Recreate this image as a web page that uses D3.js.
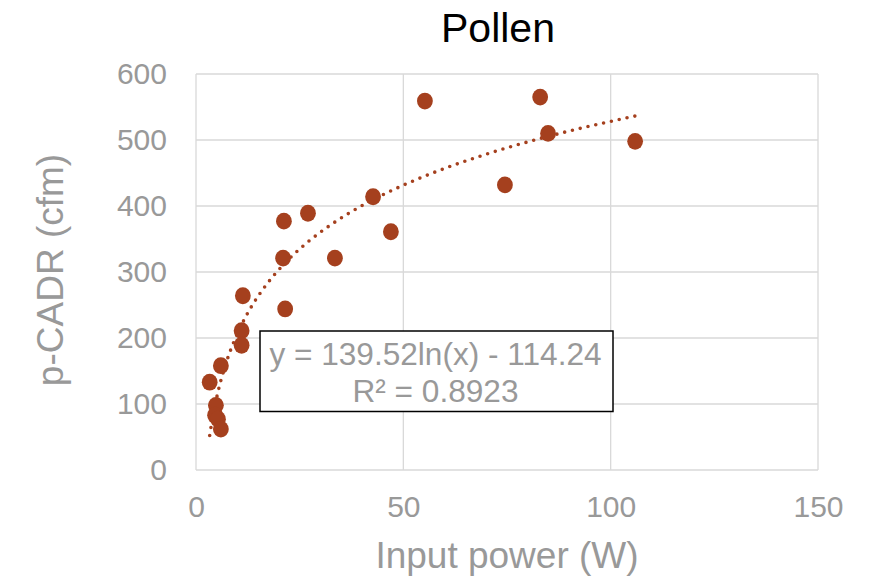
<!DOCTYPE html>
<html><head><meta charset="utf-8">
<script src="https://cdn.jsdelivr.net/npm/d3@7"></script>
<style>body{margin:0;background:#fff}svg{display:block}</style>
</head><body>
<svg id="c" width="877" height="578"></svg>
<script>
const xValues = [55.2, 83, 84.9, 105.9, 74.5, 42.7, 47, 27, 21.2, 21, 33.5, 21.5, 11.3, 11, 11, 6, 3.3, 4.8, 4.6, 5.3, 6];
const yValues = [559, 565, 510, 498, 432, 414, 361, 389, 377, 321, 321, 244, 264, 211, 189, 158, 133, 98, 83, 77, 62];
const xTicks = [0, 50, 100, 150];
const yTicks = [0, 100, 200, 300, 400, 500, 600];
const trendA = 139.52, trendB = -114.24;
const eqLines = ["y = 139.52ln(x) - 114.24", "R² = 0.8923"];

const svg = d3.select("#c");
const font = "Liberation Sans, Arial, sans-serif";
const grey = "#999999";
const mark = "#A5401E";
const x = d3.scaleLinear().domain([0,150]).range([196,818]);
const y = d3.scaleLinear().domain([0,600]).range([470,74]);

// gridlines
svg.append("g").selectAll("line").data(yTicks).join("line")
  .attr("x1",x(0)).attr("x2",x(150)).attr("y1",d=>y(d)).attr("y2",d=>y(d))
  .attr("stroke","#d9d9d9").attr("stroke-width",1.3);
svg.append("g").selectAll("line").data(xTicks).join("line")
  .attr("y1",y(0)).attr("y2",y(600)).attr("x1",d=>x(d)).attr("x2",d=>x(d))
  .attr("stroke","#d9d9d9").attr("stroke-width",1.3);

// axes
const yAxis = svg.append("g").attr("transform",`translate(${x(0)},0)`)
  .call(d3.axisLeft(y).tickValues(yTicks).tickSize(0).tickPadding(29));
const xAxis = svg.append("g").attr("transform",`translate(0,${y(0)})`)
  .call(d3.axisBottom(x).tickValues(xTicks).tickSize(0).tickPadding(25.5));
[yAxis,xAxis].forEach(a=>{
  a.select(".domain").remove();
  a.selectAll("text").attr("fill",grey).style("font-family",font).style("font-size","30px");
});

// trendline
const xs = d3.extent(xValues);
const tData = d3.range(0,201).map(i=>{const xv = xs[0]+(xs[1]-xs[0])*i/200; return [xv, trendA*Math.log(xv)+trendB];});
svg.append("path").datum(tData)
  .attr("d",d3.line().x(d=>x(d[0])).y(d=>y(d[1])))
  .attr("fill","none").attr("stroke",mark).attr("stroke-width",3.6)
  .attr("stroke-linecap","round").attr("stroke-dasharray","0 8");

// points
svg.append("g").selectAll("ellipse").data(xValues.map((v,i)=>[v,yValues[i]])).join("ellipse")
  .attr("cx",d=>x(d[0])).attr("cy",d=>y(d[1])).attr("rx",7.9).attr("ry",8.4)
  .attr("fill",mark);

// equation box
svg.append("rect").attr("x",260).attr("y",331).attr("width",353).attr("height",80.5)
  .attr("fill","#fff").attr("stroke","#000").attr("stroke-width",1.5);
svg.append("g").selectAll("text").data(eqLines).join("text")
  .attr("x",435.5).attr("y",(d,i)=>365+i*36.5).attr("text-anchor","middle")
  .attr("fill",grey).style("font-family",font).style("font-size","31.6px").text(d=>d);

// title
svg.append("text").attr("x",498).attr("y",42).attr("text-anchor","middle")
  .attr("fill","#000").style("font-family",font).style("font-size","41px").text("Pollen");
// axis titles
svg.append("text").attr("x",507).attr("y",568).attr("text-anchor","middle")
  .attr("fill",grey).style("font-family",font).style("font-size","37px").text("Input power (W)");
svg.append("text").attr("transform","translate(63,270) rotate(-90)").attr("text-anchor","middle")
  .attr("fill",grey).style("font-family",font).style("font-size","37px").text("p-CADR (cfm)");
</script>
</body></html>
